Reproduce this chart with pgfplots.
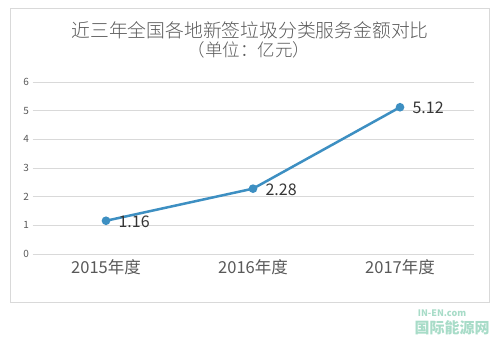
\documentclass[border=0pt]{standalone}
\usepackage{pgfplots}
\pgfplotsset{compat=1.18}
\usepackage{fontspec}
\setmainfont{Noto Sans CJK SC}
\newfontfamily\cjk{Noto Sans CJK SC}
\newfontfamily\cjklight{Noto Sans CJK SC Light}
\definecolor{txt}{HTML}{595959}
\definecolor{linec}{HTML}{3D8FC2}
\definecolor{gridc}{HTML}{D9D9D9}
\definecolor{wm}{HTML}{A8DCC8}
\begin{document}
\begin{tikzpicture}[x=1bp,y=1bp]
\path[fill=white] (0,0) rectangle (496,-341);
\draw[draw=gridc, line width=0.8bp] (10,-8) rectangle (489.5,-302);
\node[text=txt, font=\fontsize{18.8bp}{22bp}\selectfont\cjklight] at (250,-30) {近三年全国各地新签垃圾分类服务金额对比};
\node[text=txt, font=\fontsize{17.5bp}{19bp}\selectfont\cjklight] at (249,-50) {（单位：亿元）};
\begin{axis}[
  at={(32.5bp,-254bp)}, anchor=south west,
  width=441bp, height=172bp, scale only axis,
  xmin=-0.5, xmax=2.5, ymin=0, ymax=6,
  axis line style={draw=none},
  xtick={0,1,2}, xticklabels={2015年度,2016年度,2017年度},
  ytick={0,1,2,3,4,5,6},
  major tick length=0pt,
  ymajorgrids=true, xmajorgrids=false,
  major grid style={draw=gridc, line width=0.8bp},
  tick label style={text=txt},
  yticklabel style={font=\fontsize{10bp}{12bp}\selectfont},
  xticklabel style={font=\fontsize{16.5bp}{18bp}\selectfont, yshift=-2bp},
  /pgf/number format/assume math mode=true,
  clip=false,
]
\addplot[color=linec, line width=2.5bp, mark=*, mark size=3bp, mark options={fill=linec, draw=linec},
  nodes near coords, point meta=explicit symbolic,
  every node near coord/.append style={anchor=west, xshift=8bp, yshift=-1bp, text=txt!60!black, font=\fontsize{16bp}{18bp}\selectfont}]
  coordinates {(0,1.16) [1.16] (1,2.28) [2.28] (2,5.12) [5.12]};
\end{axis}
\node[text=wm, font=\fontsize{9bp}{10bp}\selectfont\bfseries\itshape] at (442,-313) {IN-EN.com};
\node[text=wm, font=\fontsize{15bp}{16bp}\selectfont\cjk\bfseries] at (452,-328) {国际能源网};
\end{tikzpicture}
\end{document}
